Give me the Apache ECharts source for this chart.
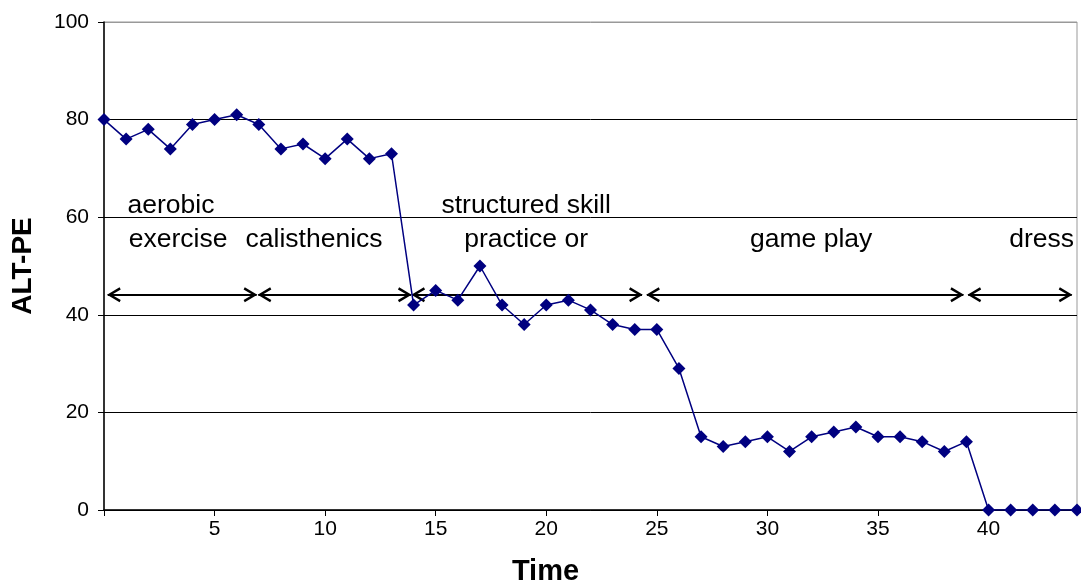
<!DOCTYPE html>
<html><head><meta charset="utf-8">
<script src="https://cdn.jsdelivr.net/npm/echarts@6/dist/echarts.min.js"></script>
<style>html,body{margin:0;padding:0;background:#fff}#c{width:1081px;height:585px}</style>
</head><body><div id="c"></div>
<script>
const categories = ['0','1','2','3','4','5','6','7','8','9','10','11','12','13','14','15','16','17','18','19','20','21','22','23','24','25','26','27','28','29','30','31','32','33','34','35','36','37','38','39','40','41','42','43','44'];
const altPE = [80,76,78,74,79,80,81,79,74,75,72,76,72,73,42,45,43,50,42,38,42,43,41,38,37,37,29,15,13,14,15,12,15,16,17,15,15,14,12,14,0,0,0,0,0];
const yTicks = [0,20,40,60,80,100];
// phase annotations (in data units: time, ALT-PE)
const phaseText = ['aerobic','exercise','calisthenics','structured skill','practice or','game play','dress'];
const phaseTextX = [3.03,3.35,9.5,19.09,19.09,31.98,42.4];
const phaseTextY = [62.3,55.3,55.3,62.3,55.3,55.3,55.3];
const arrowStart = [0.17,6.98,13.93,24.55,39.08];
const arrowEnd = [6.9,13.88,24.33,38.86,43.76];
const arrowLevel = 44.1;

const FONT = '"Liberation Sans", Arial, sans-serif';
// open chevron in a square box; tip sits at the centre of the box so it lands on the line end
const chevron = 'path://M-5.5,0 L-5.49,0.01 L-5.51,0.01 Z M20.5,0 L20.51,0.01 L20.49,0.01 Z M7.5,12.3 L15,24.8 L12.8,26 L7.5,17 L2.2,26 L0,24.8 Z';
const chart = echarts.init(document.getElementById('c'));
chart.setOption({
  animation: false,
  backgroundColor: '#fff',
  grid: {left: 104, right: 4, top: 22, bottom: 75, show: true, borderColor: '#999', borderWidth: 1, outerBoundsMode: 'none', containLabel: false},
  xAxis: [{
    type: 'category', data: categories, boundaryGap: false,
    name: 'Time', nameLocation: 'middle', nameGap: 47,
    nameTextStyle: {fontFamily: FONT, fontSize: 29, fontWeight: 'bold', color: '#000', padding: [0, 90, 0, 0]},
    axisLine: {lineStyle: {color: '#000', width: 1.5}},
    axisTick: {length: 6, lineStyle: {color: '#000', width: 1}, interval: (i) => i % 5 === 0},
    axisLabel: {fontFamily: FONT, fontSize: 21, color: '#000', margin: 9, interval: (i) => i % 5 === 0 && i > 0},
    splitLine: {show: false}
  }, {
    type: 'value', min: 0, max: 44, show: false
  }],
  yAxis: {
    type: 'value', min: yTicks[0], max: yTicks[yTicks.length-1], interval: 20,
    name: 'ALT-PE', nameLocation: 'middle', nameGap: 67, nameRotate: 90,
    nameTextStyle: {fontFamily: FONT, fontSize: 28, fontWeight: 'bold', color: '#000'},
    axisLine: {show: true, lineStyle: {color: '#000', width: 1.5}},
    axisTick: {show: true, length: 6, lineStyle: {color: '#000', width: 1}},
    axisLabel: {fontFamily: FONT, fontSize: 21, color: '#000', margin: 15},
    splitLine: {show: true, lineStyle: {color: ['#000','#000','#000','#000','#000','#999'], width: 1}}
  },
  series: [{
    type: 'line', data: altPE, xAxisIndex: 0,
    symbol: 'diamond', symbolSize: 13,
    lineStyle: {color: '#000080', width: 1.5},
    itemStyle: {color: '#000080'}, z: 5
  }, {
    type: 'lines', coordinateSystem: 'cartesian2d', xAxisIndex: 1, yAxisIndex: 0,
    symbol: [chevron, chevron], symbolSize: 26,
    lineStyle: {color: '#000', width: 2, opacity: 1},
    data: arrowStart.map((s, i) => ({coords: [[s, arrowLevel], [arrowEnd[i], arrowLevel]]})),
    z: 4
  }, {
    type: 'scatter', xAxisIndex: 1, symbolSize: 0,
    itemStyle: {opacity: 1},
    data: phaseText.map((t, i) => ({name: t, value: [phaseTextX[i], phaseTextY[i]]})),
    label: {show: true, position: 'inside', formatter: (p) => p.name, fontFamily: FONT, fontSize: 26.5, color: '#000', opacity: 1},
    z: 3
  }]
});
</script></body></html>
